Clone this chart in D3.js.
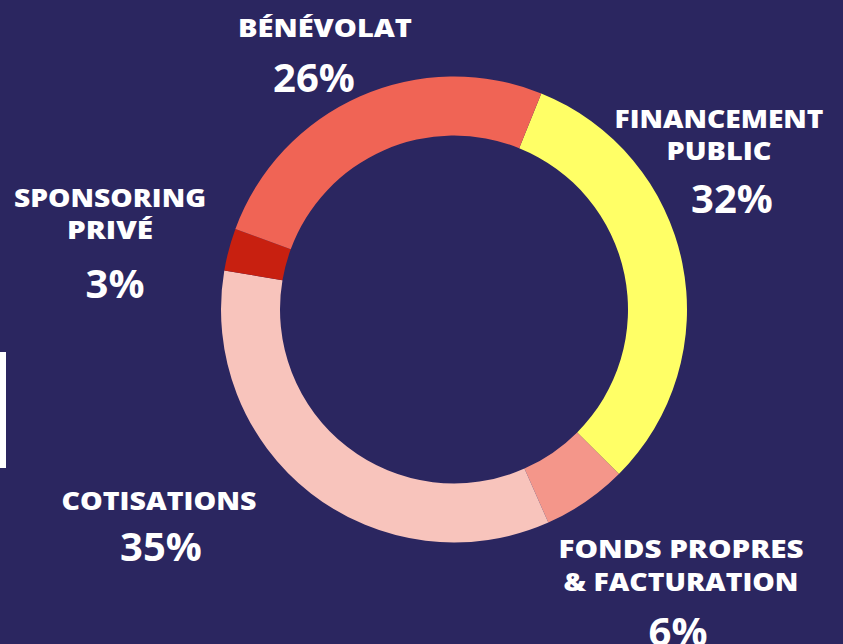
<!DOCTYPE html>
<html>
<head>
<meta charset="utf-8">
<script src="https://cdn.jsdelivr.net/npm/d3@7"></script>
<style>
  html, body { margin: 0; padding: 0; background: #2b2660; }
  svg { display: block; }
  .lbl { font-family: "Open Sans", sans-serif; font-weight: 800; fill: #fff; }
  .pct { font-family: "Open Sans", sans-serif; font-weight: 700; fill: #fff; }
</style>
</head>
<body>
<script>
// Define SVG area dimensions
var svgWidth = 843;
var svgHeight = 644;

// chart data
var categories = ["FINANCEMENT PUBLIC", "FONDS PROPRES & FACTURATION", "COTISATIONS", "SPONSORING PRIVÉ", "BÉNÉVOLAT"];
var values = [32, 6, 35, 3, 26];
var labelLines = [
  ["FINANCEMENT", "PUBLIC"],
  ["FONDS PROPRES", "& FACTURATION"],
  ["COTISATIONS"],
  ["SPONSORING", "PRIVÉ"],
  ["BÉNÉVOLAT"]
];
var colors = ["#ffff66", "#f4968a", "#f8c4bc", "#c82010", "#f06455"];

// label placement (center x, first baseline, line gap, pct baseline, label widths)
var labelLayout = [
  {x: 719, y: 128, gap: 32, py: 213, px: 732, w: [209, 105]},
  {x: 681, y: 558, gap: 33, py: 646, px: 678, w: [245, 235]},
  {x: 159, y: 510, gap: 0, py: 561, px: 161, w: [195]},
  {x: 110, y: 207, gap: 32, py: 298, px: 115, w: [192, 86]},
  {x: 325, y: 37, gap: 0, py: 92, px: 314, w: [174]}
];

var cx = 454, cy = 309.5;
var outerR = 233, innerR = 174;

var svg = d3.select("body")
  .append("svg")
  .attr("width", svgWidth)
  .attr("height", svgHeight);

svg.append("rect")
  .attr("width", svgWidth)
  .attr("height", svgHeight)
  .attr("fill", "#2b2660");

// small white bar at the left edge
svg.append("rect")
  .attr("x", 0)
  .attr("y", 352)
  .attr("width", 6)
  .attr("height", 116)
  .attr("fill", "#ffffff");

var startDeg = 22;
var pie = d3.pie()
  .sort(null)
  .startAngle(startDeg * Math.PI / 180)
  .endAngle((startDeg + 360) * Math.PI / 180);

var arc = d3.arc()
  .innerRadius(innerR)
  .outerRadius(outerR);

var chartGroup = svg.append("g")
  .attr("transform", `translate(${cx}, ${cy})`);

chartGroup.selectAll("path")
  .data(pie(values))
  .enter()
  .append("path")
  .attr("d", arc)
  .attr("fill", (d, i) => colors[i]);

// labels
categories.forEach(function(c, i) {
  var lay = labelLayout[i];
  labelLines[i].forEach(function(line, j) {
    svg.append("text")
      .attr("class", "lbl")
      .attr("x", lay.x)
      .attr("y", lay.y + j * lay.gap)
      .attr("text-anchor", "middle")
      .attr("font-size", 25)
      .attr("textLength", lay.w[j])
      .attr("lengthAdjust", "spacingAndGlyphs")
      .text(line);
  });
  svg.append("text")
    .attr("class", "pct")
    .attr("x", lay.px)
    .attr("y", lay.py)
    .attr("text-anchor", "middle")
    .attr("font-size", 40)
    .text(values[i] + "%");
});
</script>
</body>
</html>
